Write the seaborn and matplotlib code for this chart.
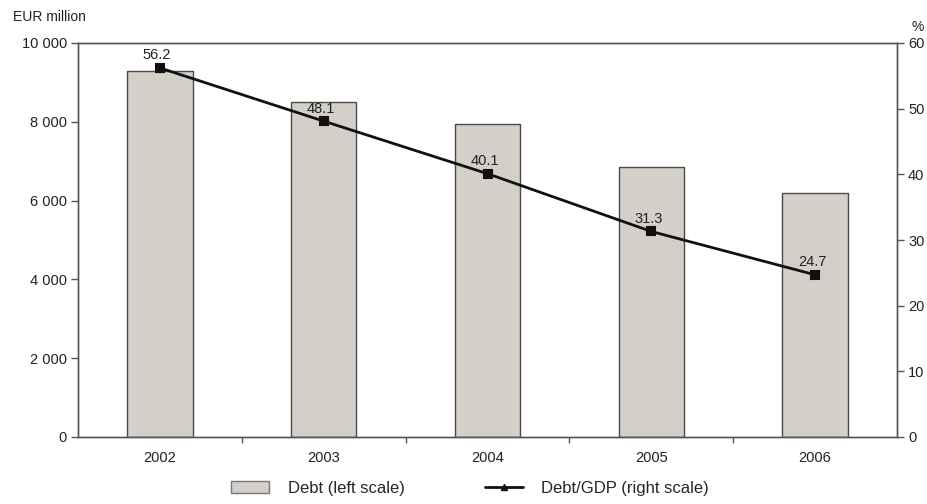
import numpy as np
import pandas as pd
import matplotlib
matplotlib.use("Agg")
import matplotlib.pyplot as plt
from matplotlib.patches import Patch
from matplotlib.lines import Line2D
from matplotlib.ticker import FuncFormatter, FixedLocator
import seaborn as sns

years = ["2002", "2003", "2004", "2005", "2006"]
debt_eur_mn = [9300, 8500, 7950, 6850, 6200]
debt_to_gdp = [56.2, 48.1, 40.1, 31.3, 24.7]

sns.set_theme(style="white")
plt.rcParams["font.family"] = ["Liberation Sans", "DejaVu Sans"]

df = pd.DataFrame({"year": years, "debt": debt_eur_mn, "ratio": debt_to_gdp})

fig = plt.figure(figsize=(9.27, 5.04), dpi=100)
ax = fig.add_axes([78 / 927, 1 - 437 / 504, (897 - 78) / 927, (437 - 43) / 504])

bar_color = "#d5cfca"
edge = "#4a4a4a"
spine_col = "#555555"
text_col = "#222222"

sns.barplot(data=df, x="year", y="debt", ax=ax, color=bar_color, width=0.4,
            edgecolor=edge, linewidth=1.0, saturation=1)
ax.set_xlim(-0.5, 4.5)
ax.set_ylim(0, 10000)
ax.set_yticks(np.arange(0, 10001, 2000))
ax.yaxis.set_major_formatter(FuncFormatter(lambda v, p: f"{int(v):,}".replace(",", " ")))
ax.set_xlabel("")
ax.set_ylabel("")

ax2 = ax.twinx()
sns.pointplot(data=df, x="year", y="ratio", ax=ax2, color="#111111",
              markers="s", linestyles="-", markersize=6, linewidth=2.0)
ax2.set_xlim(-0.5, 4.5)
ax2.set_ylim(0, 60)
ax2.set_yticks(np.arange(0, 61, 10))
ax2.set_ylabel("")
ax2.set_xlabel("")
for i, v in enumerate(debt_to_gdp):
    ax2.annotate(f"{v:.1f}", (i, v), xytext=(-2, 4), textcoords="offset points",
                 ha="center", va="bottom", fontsize=10.5, color=text_col)

# axis styling
for a in (ax, ax2):
    for s in a.spines.values():
        s.set_color(spine_col)
        s.set_linewidth(1.0)
ax.tick_params(axis="y", direction="out", length=5, width=1, color=spine_col,
               labelsize=10.5, labelcolor=text_col, pad=3, left=True)
ax2.tick_params(axis="y", direction="out", length=5, width=1, color=spine_col,
                labelsize=10.5, labelcolor=text_col, pad=3, right=True)
ax.tick_params(axis="x", which="major", length=0, labelsize=10.5, labelcolor=text_col, pad=10)
ax.xaxis.set_minor_locator(FixedLocator([0.5, 1.5, 2.5, 3.5]))
ax.tick_params(axis="x", which="minor", direction="out", length=4, width=1,
               color=spine_col, bottom=True)

fig.text(13 / 927, 1 - 17 / 504, "EUR million", fontsize=10, color=text_col,
         ha="left", va="center")
fig.text(918 / 927, 1 - 27 / 504, "%", fontsize=10, color=text_col,
         ha="center", va="center")

handles = [
    Patch(facecolor=bar_color, edgecolor="#777777", linewidth=1.0),
    Line2D([0], [0], color="#111111", linewidth=2, marker="^", markersize=5),
]
labels = ["Debt (left scale)", "Debt/GDP (right scale)"]
fig.legend(handles, labels, loc="center", bbox_to_anchor=(470 / 927, 1 - 488 / 504),
           ncol=2, frameon=False, fontsize=12, columnspacing=4.8, handlelength=2.3,
           handletextpad=1.1, handleheight=0.7)

fig.savefig("out.png", dpi=100)
